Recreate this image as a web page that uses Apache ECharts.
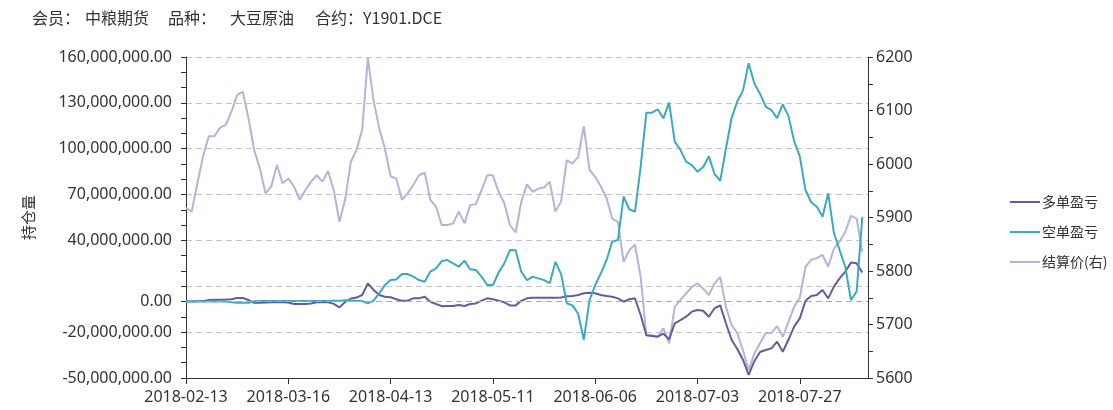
<!DOCTYPE html>
<html>
<head>
<meta charset="utf-8">
<script src="https://cdn.jsdelivr.net/npm/echarts@6/dist/echarts.min.js"></script>
<style>
    html, body { margin: 0; padding: 0; background: #fff; }
    #chart { width: 1113px; height: 410px; }
</style>
</head>
<body>
<div id="chart"></div>
<script>
// trading days (last one has no data)
const dates = [
    '2018-02-13', '2018-02-14', '2018-02-22', '2018-02-23', '2018-02-26', '2018-02-27', '2018-02-28', '2018-03-01', '2018-03-02',
    '2018-03-05', '2018-03-06', '2018-03-07', '2018-03-08', '2018-03-09', '2018-03-12', '2018-03-13', '2018-03-14', '2018-03-15', '2018-03-16',
    '2018-03-19', '2018-03-20', '2018-03-21', '2018-03-22', '2018-03-23', '2018-03-26', '2018-03-27', '2018-03-28', '2018-03-29', '2018-03-30',
    '2018-04-02', '2018-04-03', '2018-04-04', '2018-04-09', '2018-04-10', '2018-04-11', '2018-04-12', '2018-04-13',
    '2018-04-16', '2018-04-17', '2018-04-18', '2018-04-19', '2018-04-20', '2018-04-23', '2018-04-24', '2018-04-25', '2018-04-26', '2018-04-27',
    '2018-05-02', '2018-05-03', '2018-05-04', '2018-05-07', '2018-05-08', '2018-05-09', '2018-05-10', '2018-05-11',
    '2018-05-14', '2018-05-15', '2018-05-16', '2018-05-17', '2018-05-18', '2018-05-21', '2018-05-22', '2018-05-23', '2018-05-24', '2018-05-25',
    '2018-05-28', '2018-05-29', '2018-05-30', '2018-05-31', '2018-06-01', '2018-06-04', '2018-06-05', '2018-06-06', '2018-06-07', '2018-06-08',
    '2018-06-11', '2018-06-12', '2018-06-13', '2018-06-14', '2018-06-15', '2018-06-19', '2018-06-20', '2018-06-21', '2018-06-22',
    '2018-06-25', '2018-06-26', '2018-06-27', '2018-06-28', '2018-06-29', '2018-07-02', '2018-07-03', '2018-07-04', '2018-07-05', '2018-07-06',
    '2018-07-09', '2018-07-10', '2018-07-11', '2018-07-12', '2018-07-13', '2018-07-16', '2018-07-17', '2018-07-18', '2018-07-19', '2018-07-20',
    '2018-07-23', '2018-07-24', '2018-07-25', '2018-07-26', '2018-07-27', '2018-07-30', '2018-07-31', '2018-08-01', '2018-08-02', '2018-08-03',
    '2018-08-06', '2018-08-07', '2018-08-08', '2018-08-09', '2018-08-10', '2018-08-13', '2018-08-14'
];

// 多单盈亏, millions
const longPnl = [
    0, 0, 0.2, 0.3, 1.0, 1.2, 1.2, 1.3, 1.5, 2.4,
    2.4, 1.0, -0.8, -0.8, -0.6, -0.5, -0.5, -0.5, -0.6, -1.6,
    -1.6, -1.6, -1.2, -0.5, -0.5, -0.5, -1.5, -3.8, -0.3, 2.0,
    2.6, 4.3, 11.9, 7.6, 4.3, 3.2, 2.8, 1.5, 0.6, 0.6,
    2.1, 2.1, 3.2, -0.1, -1.6, -3.0, -2.9, -2.9, -2.3, -2.9,
    -1.6, -1.2, 0.6, 2.1, 1.5, 0.5, -0.5, -2.5, -2.5, 0.5,
    2.1, 2.5, 2.5, 2.5, 2.5, 2.5, 2.7, 3.5, 3.7, 4.3,
    5.4, 5.8, 5.4, 4.3, 3.7, 3.2, 2.1, -0.1, 1.5, 2.1,
    -8.8, -22.0, -22.5, -23.0, -21.0, -24.7, -14.2, -12.1, -9.9, -6.6,
    -5.5, -6.0, -9.9, -4.4, -2.5, -14.2, -25.0, -31.0, -38.0, -48.0,
    -39.0, -33.0, -31.7, -30.6, -26.2, -32.8, -25.0, -16.4, -11.0, 0.5,
    3.7, 4.3, 7.6, 2.1, 9.8, 15.2, 19.6, 25.5, 25.0, 19.0
];

// 空单盈亏, millions
const shortPnl = [
    0, 0, 0, 0, 0, 0, 0, 0, -0.5, -0.8,
    -0.8, -0.8, 0.2, 0.3, 0.3, 0.3, 0.3, 0.3, 0.3, 0.3,
    0.3, 0.3, 0.3, 0.3, 0.3, 0.3, 0.5, 0.6, 0.8, 0.6,
    0.6, 0.3, -1.2, 0.6, 5.4, 10.8, 14.1, 14.5, 18.0, 18.0,
    16.3, 14.1, 13.0, 19.6, 21.7, 26.5, 27.2, 25.0, 22.8, 26.8,
    21.1, 20.7, 16.3, 10.8, 10.8, 19.0, 25.0, 33.7, 33.5, 19.5,
    14.0, 16.3, 15.2, 14.0, 12.0, 26.0, 18.0, -1.1, -2.5, -8.0,
    -25.0, 1.0, 10.8, 18.5, 27.2, 39.2, 40.3, 68.6, 60.4, 58.8,
    88.3, 123.6, 123.6, 125.8, 119.9, 130.1, 104.6, 99.2, 91.5, 89.3,
    85.0, 88.0, 95.0, 83.5, 79.0, 100.0, 120.0, 131.0, 138.0, 155.9,
    142.8, 136.0, 127.5, 125.3, 120.0, 129.0, 121.5, 105.0, 95.0, 73.0,
    65.0, 62.0, 55.5, 70.8, 45.0, 33.7, 22.8, 1.0, 6.5, 55.5
];

// 结算价(右)
const settle = [
    5918, 5911, 5964, 6014, 6052, 6052, 6068, 6073, 6098, 6129,
    6135, 6085, 6026, 5992, 5945, 5958, 5998, 5964, 5973, 5958,
    5933, 5951, 5967, 5979, 5967, 5987, 5951, 5892, 5933, 6004,
    6026, 6064, 6198, 6119, 6067, 6029, 5977, 5973, 5933, 5945,
    5961, 5979, 5984, 5933, 5920, 5886, 5886, 5889, 5911, 5889,
    5923, 5925, 5951, 5979, 5979, 5948, 5927, 5886, 5872, 5930,
    5962, 5948, 5954, 5956, 5967, 5911, 5930, 6007, 6001, 6013,
    6071, 5989, 5976, 5958, 5936, 5898, 5892, 5817, 5839, 5849,
    5789, 5680, 5680, 5677, 5693, 5665, 5733, 5746, 5758, 5770,
    5777, 5767, 5755, 5777, 5789, 5733, 5699, 5684, 5652, 5615,
    5646, 5665, 5684, 5684, 5697, 5677, 5705, 5733, 5750, 5808,
    5821, 5824, 5830, 5808, 5842, 5855, 5873, 5903, 5898, 5836
];

const leftLabels = [-50, -20, 0, 40, 70, 100, 130, 160];
const seriesNames = ['多单盈亏', '空单盈亏', '结算价(右)'];

const UNIT = 1e6;
const FONT = "'Noto Sans', 'Noto Sans CJK SC', sans-serif";
const CJK = "'Noto Sans CJK SC', sans-serif";

function money(v) {
    return v.toLocaleString('en-US', {minimumFractionDigits: 2, maximumFractionDigits: 2});
}

const chart = echarts.init(document.getElementById('chart'));

const titleFont = "16px 'Noto Sans CJK SC'";
const option = {
    animation: false,
    textStyle: {fontFamily: FONT},
    graphic: [
        {type: 'text', left: 32, top: 10, style: {text: '会员：', font: titleFont, fill: '#333'}},
        {type: 'text', left: 85, top: 10, style: {text: '中粮期货', font: titleFont, fill: '#333'}},
        {type: 'text', left: 168, top: 10, style: {text: '品种：', font: titleFont, fill: '#333'}},
        {type: 'text', left: 230, top: 10, style: {text: '大豆原油', font: titleFont, fill: '#333'}},
        {type: 'text', left: 315, top: 10, style: {text: '合约：Y1901.DCE', font: titleFont, fill: '#333'}}
    ],
    legend: {
        orient: 'vertical',
        left: 1005,
        top: 190,
        icon: 'rect',
        itemWidth: 30,
        itemHeight: 2,
        itemGap: 16,
        data: seriesNames,
        textStyle: {fontSize: 14, color: '#333', fontFamily: CJK, padding: [0, 0, 0, -3]}
    },
    grid: {left: 186, right: 245, top: 57, bottom: 32},
    xAxis: {
        type: 'category',
        data: dates,
        boundaryGap: false,
        axisLine: {onZero: false, lineStyle: {color: '#333'}},
        axisTick: {interval: 17, length: 6, lineStyle: {color: '#333'}},
        axisLabel: {interval: 17, color: '#333', fontSize: 16, margin: 11}
    },
    yAxis: [
        {
            type: 'value',
            min: -50 * UNIT,
            max: 160 * UNIT,
            interval: 30 * UNIT,
            name: '持仓量',
            nameLocation: 'middle',
            nameRotate: 90,
            nameGap: 150,
            nameTextStyle: {fontSize: 15, color: '#333', fontFamily: CJK},
            axisLine: {show: true, lineStyle: {color: '#333'}},
            axisTick: {show: true, length: 5, lineStyle: {color: '#333'}},
            minorTick: {show: true, splitNumber: 3, length: 5, lineStyle: {color: '#333'}},
            axisLabel: {
                customValues: leftLabels.map(v => v * UNIT),
                color: '#333',
                fontSize: 16,
                margin: 14,
                formatter: money
            },
            splitLine: {show: true, lineStyle: {color: '#c4c4c4', type: [6, 4]}}
        },
        {
            type: 'value',
            min: 5600,
            max: 6200,
            interval: 100,
            position: 'right',
            axisLine: {show: true, lineStyle: {color: '#333'}},
            axisTick: {show: true, length: 5, lineStyle: {color: '#333'}},
            minorTick: {show: true, splitNumber: 2, length: 5, lineStyle: {color: '#333'}},
            axisLabel: {color: '#333', fontSize: 16, margin: 8, formatter: v => String(v)},
            splitLine: {show: false}
        }
    ],
    series: [
        {
            name: seriesNames[2],
            type: 'line',
            yAxisIndex: 1,
            data: settle,
            symbol: 'none',
            color: '#b2b4d9',
            lineStyle: {width: 2}
        },
        {
            name: seriesNames[0],
            type: 'line',
            yAxisIndex: 0,
            data: longPnl.map(v => v * UNIT),
            symbol: 'none',
            color: '#6a5a9c',
            lineStyle: {width: 2},
            markLine: {
                silent: true,
                symbol: 'none',
                label: {show: false},
                lineStyle: {color: '#aaaaaa', type: [6, 4], width: 1},
                data: [{name: 'zero', yAxis: 0}]
            }
        },
        {
            name: seriesNames[1],
            type: 'line',
            yAxisIndex: 0,
            data: shortPnl.map(v => v * UNIT),
            symbol: 'none',
            color: '#3aaac0',
            lineStyle: {width: 2}
        }
    ]
};

chart.setOption(option);
</script>
</body>
</html>
